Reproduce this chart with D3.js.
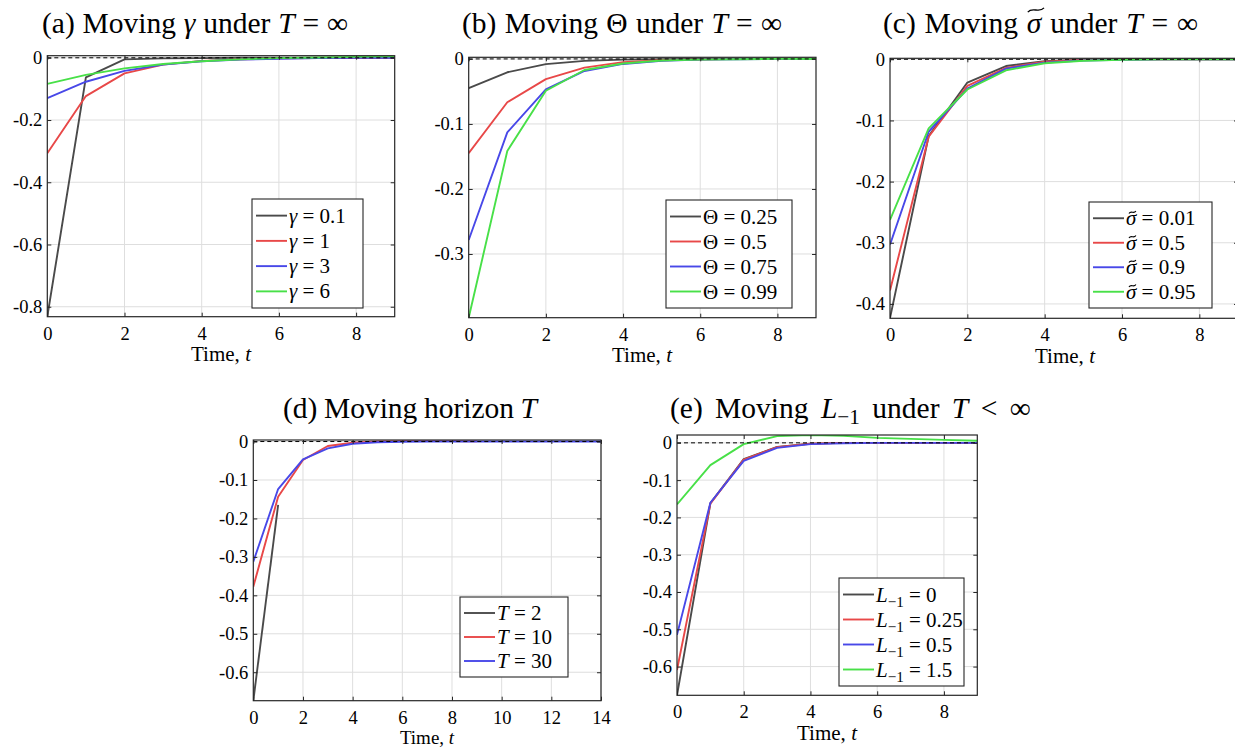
<!DOCTYPE html>
<html><head><meta charset="utf-8">
<script src="https://cdn.jsdelivr.net/npm/d3@7"></script>
<style>
body{margin:0;background:#fff}
svg{display:block}
text{font-family:"Liberation Serif","Times New Roman",serif;fill:#000}
</style>
</head><body>
<svg id="chart" width="1235" height="748"></svg>
<script>
// ---------------- DATA ----------------
const time9 = [0,1,2,3,4,5,6,7,8,9];
const time14 = [0,1,2,3,4,5,6,7,8,9,10,11,12,13,14];
const timeT2 = [0,1];

const xTicks9 = [0,2,4,6,8];
const xTicks14 = [0,2,4,6,8,10,12,14];

// (a) moving gamma
const gammaLabels = ["0.1","1","3","6"];
const gamma01 = [-0.832,-0.063,-0.005,-0.002,-0.001,0,0,0,0,0];
const gamma1  = [-0.307,-0.123,-0.050,-0.022,-0.010,-0.005,-0.002,-0.001,-0.0005,0];
const gamma3  = [-0.130,-0.077,-0.042,-0.022,-0.011,-0.006,-0.003,-0.001,0,0];
const gamma6  = [-0.084,-0.055,-0.034,-0.020,-0.011,-0.005,-0.001,0.001,0.003,0.005];
const yTicksA = [0,-0.2,-0.4,-0.6,-0.8];

// (b) moving Theta
const thetaLabels = ["0.25","0.5","0.75","0.99"];
const theta025 = [-0.045,-0.0205,-0.008,-0.003,-0.001,-0.0004,0,0,0,0];
const theta05  = [-0.145,-0.0667,-0.031,-0.0134,-0.005,-0.002,-0.001,0,0,0];
const theta075 = [-0.2785,-0.113,-0.0467,-0.0185,-0.0077,-0.003,-0.001,-0.0004,0,0];
const theta099 = [-0.398,-0.1415,-0.049,-0.017,-0.007,-0.0025,-0.001,-0.0004,0,0];
const yTicksB = [0,-0.1,-0.2,-0.3];

// (c) moving sigma tilde
const sigmaLabels = ["0.01","0.5","0.9","0.95"];
const sigma001 = [-0.423,-0.1255,-0.038,-0.011,-0.003,-0.0005,0,0,0,0];
const sigma05  = [-0.378,-0.1267,-0.0435,-0.014,-0.004,-0.001,0,0,0,0];
const sigma09  = [-0.303,-0.1185,-0.048,-0.0152,-0.0055,-0.002,-0.001,0,0,0];
const sigma095 = [-0.2625,-0.113,-0.0494,-0.018,-0.0065,-0.0025,-0.001,0,0,0];
const yTicksC = [0,-0.1,-0.2,-0.3,-0.4];

// (d) moving horizon T
const horizonLabels = ["2","10","30"];
const horizonT2  = [-0.674,-0.165];
const horizonT10 = [-0.3775,-0.1435,-0.048,-0.0117,-0.003,0,0.001,0.001,0.001,0.0005];
const horizonT30 = [-0.3125,-0.1235,-0.0463,-0.0178,-0.0057,-0.002,-0.0005,0,0,0,0,0,0,0,0];
const yTicksD = [0,-0.1,-0.2,-0.3,-0.4,-0.5,-0.6];

// (e) moving L_{-1}
const lagLabels = ["0","0.25","0.5","1.5"];
const lag0   = [-0.677,-0.162,-0.0437,-0.0107,-0.002,0,0,0,0,0];
const lag025 = [-0.609,-0.163,-0.045,-0.0115,-0.0025,0,0,0,0,0];
const lag05  = [-0.515,-0.1607,-0.0482,-0.0134,-0.0035,-0.001,0,0,0,0];
const lag15  = [-0.165,-0.0597,-0.0035,0.018,0.0206,0.0188,0.0134,0.0105,0.008,0.0054];
const yTicksE = [0,-0.1,-0.2,-0.3,-0.4,-0.5,-0.6];

// ---------------- STYLE / LAYOUT ----------------
const lineColors = ["#4a4a4a","#e84848","#4848e8","#48e048"];
const svg = d3.select("#chart");
const TICK_FS = 18.5, LEG_FS = 21, TITLE_FS = 29.5;

const panels = [
  {id:"a", box:[47.3,394.7,55.7,316.7], xd:[0,9], yd:[-0.832,0.0067], xt:xTicks9, yt:yTicksA,
   series:[[time9,gamma01],[time9,gamma1],[time9,gamma3],[time9,gamma6]],
   sym:"gamma", labels:gammaLabels, leg:[252,363,199,308],
   title:{x:42,y:33,w:306,kind:"a"}, xlab:{x:221,y:361,fs:21}},
  {id:"b", box:[468.7,816,57.3,317.7], xd:[0,9], yd:[-0.398,0.0025], xt:xTicks9, yt:yTicksB,
   series:[[time9,theta025],[time9,theta05],[time9,theta075],[time9,theta099]],
   sym:"Theta", labels:thetaLabels, leg:[666,792,200,308],
   title:{x:462,y:33,w:320,kind:"b"}, xlab:{x:642,y:361.5,fs:21}},
  {id:"c", box:[890,1238,58.3,318.3], xd:[0,9], yd:[-0.4235,0.0016], xt:xTicks9, yt:yTicksC,
   series:[[time9,sigma001],[time9,sigma05],[time9,sigma09],[time9,sigma095]],
   sym:"sigma", labels:sigmaLabels, leg:[1089,1212,202,308],
   title:{x:883,y:33,w:315,kind:"c"}, xlab:{x:1065,y:362.5,fs:21}},
  {id:"d", box:[253.3,601,440,700.7], xd:[0,14], yd:[-0.674,0.004], xt:xTicks14, yt:yTicksD,
   series:[[timeT2,horizonT2],[time9,horizonT10],[time14,horizonT30]],
   sym:"T", labels:horizonLabels, leg:[460,568,597,677],
   title:{x:283,y:418,w:254,kind:"d"}, xlab:{x:427,y:744,fs:19}},
  {id:"e", box:[677,977.3,435,695.3], xd:[0,9], yd:[-0.677,0.021], xt:xTicks9, yt:yTicksE,
   series:[[time9,lag0],[time9,lag025],[time9,lag05],[time9,lag15]],
   sym:"L", labels:lagLabels, leg:[839,964,578,686],
   title:{x:670,y:418,w:392,kind:"e"}, xlab:{x:827,y:740,fs:21}}
];

const tickFmt = d => d === 0 ? "0" : String(d);

// tilde accent above character idx of a text element
function addTilde(parent, textSel, idx, fs, wide){
  const ext = textSel.node().getExtentOfChar(idx);
  const cx = ext.x + ext.width/2 + fs*0.06;
  const base = +textSel.attr("y");
  const w = wide ? fs*0.55 : fs*0.33;
  const h = wide ? fs*0.07 : fs*0.06;
  const yy = base - fs*(wide ? 0.78 : 0.62);
  const x0 = cx - w/2;
  const p = d3.path();
  p.moveTo(x0, yy + h);
  p.bezierCurveTo(x0 + w*0.3, yy - 1.8*h, x0 + w*0.7, yy + 1.8*h, x0 + w, yy - h);
  parent.append("path").attr("d", p.toString()).attr("fill","none")
    .attr("stroke","#000").attr("stroke-width", wide ? 1.3 : 1.1);
}

function addSymbol(t, sym, fs){
  if(sym==="gamma") t.append("tspan").attr("font-style","italic").text("γ");
  else if(sym==="Theta") t.append("tspan").text("Θ");
  else if(sym==="sigma") t.append("tspan").attr("font-style","italic").text("σ");
  else if(sym==="T") t.append("tspan").attr("font-style","italic").text("T");
  else if(sym==="L"){
    t.append("tspan").attr("font-style","italic").text("L");
    t.append("tspan").attr("font-size", fs*0.72).attr("dy", fs*0.25).text("−1");
  }
}

function addTitle(p){
  const fs = TITLE_FS;
  const t = svg.append("text").attr("x",p.title.x).attr("y",p.title.y).attr("font-size",fs);
  const k = p.title.kind;
  if(k==="a"){ t.append("tspan").text("(a) Moving "); t.append("tspan").attr("font-style","italic").text("γ");
    t.append("tspan").text(" under "); t.append("tspan").attr("font-style","italic").text("T"); t.append("tspan").text(" = ∞"); }
  if(k==="b"){ t.append("tspan").text("(b) Moving Θ under "); t.append("tspan").attr("font-style","italic").text("T"); t.append("tspan").text(" = ∞"); }
  if(k==="c"){ t.append("tspan").text("(c) Moving "); t.append("tspan").attr("font-style","italic").text("σ");
    t.append("tspan").text(" under "); t.append("tspan").attr("font-style","italic").text("T"); t.append("tspan").text(" = ∞"); }
  if(k==="d"){ t.append("tspan").text("(d) Moving horizon "); t.append("tspan").attr("font-style","italic").text("T"); }
  if(k==="e"){ t.append("tspan").text("(e) Moving "); t.append("tspan").attr("font-style","italic").text("L");
    t.append("tspan").attr("font-size",fs*0.72).attr("dy",fs*0.22).text("−1");
    t.append("tspan").attr("dy",-fs*0.22).text(" under "); t.append("tspan").attr("font-style","italic").text("T"); t.append("tspan").text(" < ∞"); }
  // fit width toward the reference caption width by adjusting word spacing
  const w = t.node().getComputedTextLength();
  const nSpaces = (t.text().match(/ /g) || []).length;
  const ws = Math.max(-3, Math.min(5, (p.title.w - w) / nSpaces));
  t.attr("word-spacing", ws);
  if(k==="c") addTilde(svg, t, 11, fs, true);
}

panels.forEach(p => {
  const [x0,x1,y0,y1] = p.box;
  const x = d3.scaleLinear().domain(p.xd).range([x0,x1]);
  const y = d3.scaleLinear().domain(p.yd).range([y1,y0]);
  const g = svg.append("g");
  const clipId = "clip-"+p.id;
  svg.append("clipPath").attr("id",clipId).append("rect")
    .attr("x",x0).attr("y",y0).attr("width",x1-x0).attr("height",y1-y0);

  // grid
  g.append("g").selectAll("line").data(p.xt.filter(v=>v>p.xd[0])).join("line")
    .attr("x1",d=>x(d)).attr("x2",d=>x(d)).attr("y1",y0).attr("y2",y1)
    .attr("stroke","#dedede").attr("stroke-width",1);
  g.append("g").selectAll("line").data(p.yt).join("line")
    .attr("x1",x0).attr("x2",x1).attr("y1",d=>y(d)).attr("y2",d=>y(d))
    .attr("stroke","#dedede").attr("stroke-width",1);

  // data lines
  const line = d3.line().x(d=>x(d[0])).y(d=>y(d[1]));
  const lg = g.append("g").attr("clip-path","url(#"+clipId+")");
  p.series.forEach((s,i) => {
    const pts = s[0].map((t,j)=>[t,s[1][j]]);
    lg.append("path").datum(pts).attr("d",line).attr("fill","none")
      .attr("stroke",lineColors[i]).attr("stroke-width",1.9).attr("stroke-linejoin","round");
  });
  // zero dashed line
  lg.append("line").attr("x1",x0).attr("x2",x1).attr("y1",y(0)).attr("y2",y(0))
    .attr("stroke","#000").attr("stroke-width",1).attr("stroke-dasharray","4,3");

  // axes
  const axStyle = sel => { sel.attr("font-family",null).attr("font-size",null);
    sel.select(".domain").remove();
    sel.selectAll(".tick line").attr("stroke","#262626").attr("stroke-width",1);
    sel.selectAll("text").attr("font-size",TICK_FS).attr("fill","#000"); };
  g.append("g").attr("transform",`translate(0,${y1})`)
    .call(d3.axisBottom(x).tickValues(p.xt).tickFormat(tickFmt).tickSize(-4).tickPadding(10)).call(axStyle);
  g.append("g").attr("transform",`translate(0,${y0})`)
    .call(d3.axisTop(x).tickValues(p.xt).tickFormat("").tickSize(-4)).call(axStyle);
  g.append("g").attr("transform",`translate(${x0},0)`)
    .call(d3.axisLeft(y).tickValues(p.yt).tickFormat(tickFmt).tickSize(-4).tickPadding(5)).call(axStyle);
  g.append("g").attr("transform",`translate(${x1},0)`)
    .call(d3.axisRight(y).tickValues(p.yt).tickFormat("").tickSize(-4)).call(axStyle);
  // box
  g.append("rect").attr("x",x0).attr("y",y0).attr("width",x1-x0).attr("height",y1-y0)
    .attr("fill","none").attr("stroke","#262626").attr("stroke-width",1.2);

  // x label
  const xl = g.append("text").attr("x",p.xlab.x).attr("y",p.xlab.y).attr("text-anchor","middle").attr("font-size",p.xlab.fs);
  xl.append("tspan").text("Time, "); xl.append("tspan").attr("font-style","italic").text("t");

  // legend
  const [lx0,lx1,ly0,ly1] = p.leg;
  const lgd = g.append("g");
  lgd.append("rect").attr("x",lx0).attr("y",ly0).attr("width",lx1-lx0).attr("height",ly1-ly0)
    .attr("fill","#fff").attr("stroke","#262626").attr("stroke-width",1.1);
  const n = p.labels.length;
  const rowH = (ly1-ly0-8)/n;
  p.labels.forEach((lab,i) => {
    const cy = ly0 + 4 + rowH*(i+0.5);
    lgd.append("line").attr("x1",lx0+4).attr("x2",lx0+35).attr("y1",cy).attr("y2",cy)
      .attr("stroke",lineColors[i]).attr("stroke-width",1.9);
    const t = lgd.append("text").attr("x",lx0+37).attr("y",cy+7).attr("font-size",LEG_FS);
    addSymbol(t,p.sym,LEG_FS);
    if(p.sym==="L") t.append("tspan").attr("dy",-LEG_FS*0.25).text(" = "+lab);
    else t.append("tspan").text(" = "+lab);
    if(p.sym==="sigma") addTilde(lgd, t, 0, LEG_FS, false);
  });

  addTitle(p);
});
</script>
</body></html>
